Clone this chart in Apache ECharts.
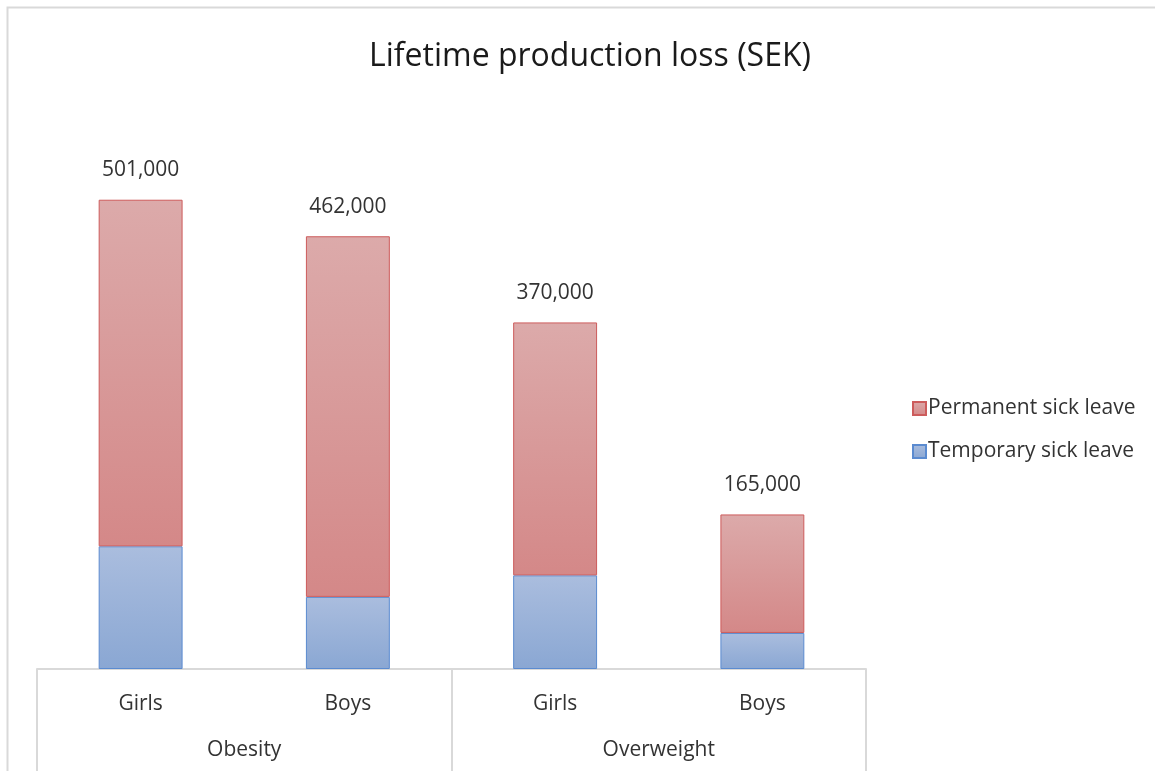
<!DOCTYPE html>
<html>
<head>
<meta charset="utf-8">
<script src="https://cdn.jsdelivr.net/npm/echarts@6/dist/echarts.min.js"></script>
<style>
  html, body { margin: 0; padding: 0; background: #fff; }
  #chart { width: 1155px; height: 771px; }
</style>
</head>
<body>
<div id="chart"></div>
<script>
const genders = ["Girls", "Boys", "Girls", "Boys"];
const groups = ["Obesity", "Overweight"];
const temporary = [131000, 77000, 100000, 38500];
const permanent = [370000, 385000, 270000, 126500];
const totalLabels = ["501,000", "462,000", "370,000", "165,000"];

const font = "'Open Sans', sans-serif";
const textColor = "#333333";
const lineColor = "#d9d9d9";

const chart = echarts.init(document.getElementById("chart"));

const grad = (top, bottom) => ({
  type: "linear", x: 0, y: 0, x2: 0, y2: 1,
  colorStops: [
    { offset: 0, color: top },
    { offset: 1, color: bottom },
  ],
});

chart.setOption({
  animation: false,
  textStyle: { fontFamily: font },
  title: {
    text: "Lifetime production loss (SEK)",
    left: 585,
    top: 36,
    textAlign: "center",
    textStyle: { fontFamily: font, fontSize: 32, fontWeight: "normal", color: "#1a1a1a" },
  },
  graphic: [
    {
      type: "rect",
      shape: { x: 7.5, y: 7.5, width: 1300, height: 1000 },
      style: { fill: "none", stroke: lineColor, lineWidth: 2 },
      silent: true,
    },
  ],
  legend: {
    orient: "vertical",
    left: 907,
    top: 393,
    itemWidth: 13,
    itemHeight: 13,
    itemGap: 22,
    icon: "rect",
    data: ["Permanent sick leave", "Temporary sick leave"],
    textStyle: { fontFamily: font, fontSize: 21, color: textColor, padding: [0, 0, 0, -3] },
  },
  grid: { left: 37, right: 289, top: 107, bottom: 102 },
  xAxis: [
    {
      type: "category",
      data: genders,
      position: "bottom",
      axisLine: { show: true, lineStyle: { color: lineColor, width: 2 } },
      axisTick: { show: false },
      axisLabel: { fontFamily: font, fontSize: 21, color: textColor, margin: 25 },
    },
    {
      type: "category",
      data: groups,
      position: "bottom",
      axisLine: { show: false },
      axisTick: { show: true, length: 110, lineStyle: { color: lineColor, width: 2 } },
      axisLabel: { fontFamily: font, fontSize: 21, color: textColor, margin: 71 },
    },
  ],
  yAxis: {
    type: "value",
    min: 0,
    max: 600000,
    show: false,
    splitLine: { show: false },
  },
  series: [
    {
      name: "Temporary sick leave",
      type: "bar",
      stack: "loss",
      xAxisIndex: 0,
      barWidth: "40.5%",
      data: temporary,
      itemStyle: {
        color: grad("#aabdde", "#8aa7d3"),
        borderColor: "#5b8bd0",
        borderWidth: 1,
      },
    },
    {
      name: "Permanent sick leave",
      type: "bar",
      stack: "loss",
      xAxisIndex: 0,
      barWidth: "40.5%",
      data: permanent,
      itemStyle: {
        color: grad("#dcaaaa", "#d48888"),
        borderColor: "#cd5c5c",
        borderWidth: 1,
      },
      label: {
        show: true,
        position: "top",
        distance: 19,
        formatter: (p) => totalLabels[p.dataIndex],
        fontFamily: font,
        fontSize: 21,
        color: textColor,
      },
    },
  ],
});
</script>
</body>
</html>
